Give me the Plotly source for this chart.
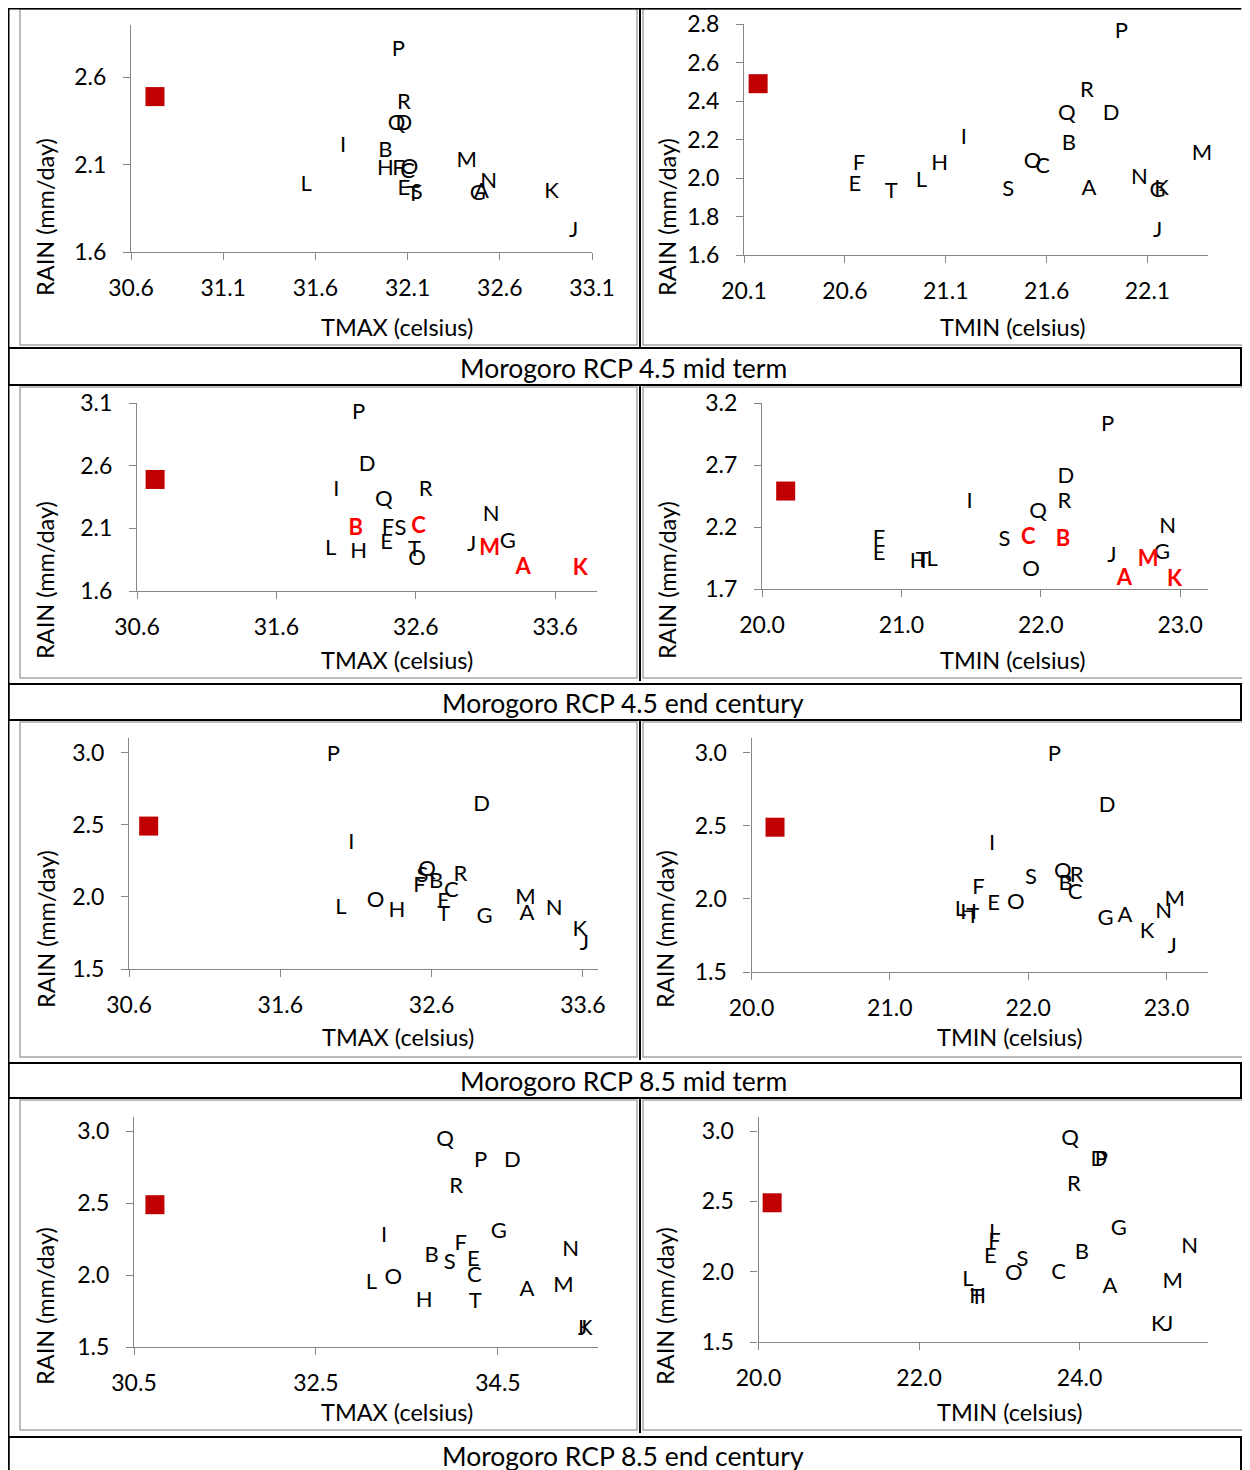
import plotly.graph_objects as go

# ---------------- data ----------------
letters = ["A", "B", "C", "D", "E", "F", "G", "H", "I", "J",
           "K", "L", "M", "N", "O", "P", "Q", "R", "S", "T"]

base_tmax = 30.73
base_tmin = 20.17
base_rain = 2.49

# RCP 4.5 mid term
rain_45mid = [1.94, 2.175, 2.055, 2.33, 1.96, 2.07, 1.93, 2.07, 2.205, 1.72,
              1.94, 1.98, 2.12, 2.00, 2.08, 2.755, 2.33, 2.45, 1.935, 1.925]
tmax_45mid = [32.50, 31.98, 32.10, 32.08, 32.08, 32.05, 32.48, 31.98, 31.75, 33.00,
              32.88, 31.55, 32.42, 32.54, 32.11, 32.05, 32.04, 32.08, 32.15, 32.13]
tmin_45mid = [21.81, 21.71, 21.58, 21.92, 20.65, 20.67, 22.15, 21.07, 21.19, 22.15,
              22.17, 20.98, 22.37, 22.06, 21.53, 21.97, 21.70, 21.80, 21.41, 20.83]

# RCP 4.5 end century
rain_45end = [1.78, 2.09, 2.11, 2.60, 1.98, 2.10, 1.99, 1.91, 2.40, 1.96,
              1.77, 1.93, 1.93, 2.20, 1.85, 3.02, 2.32, 2.40, 2.09, 1.92]
tmax_45end = [33.37, 32.17, 32.62, 32.25, 32.39, 32.40, 33.26, 32.19, 32.03, 33.00,
              33.78, 31.99, 33.13, 33.14, 32.61, 32.19, 32.37, 32.67, 32.49, 32.59]
tmin_45end = [22.60, 22.16, 21.91, 22.18, 20.84, 20.84, 22.87, 21.12, 21.49, 22.51,
              22.96, 21.22, 22.77, 22.91, 21.93, 22.48, 21.98, 22.17, 21.74, 21.15]
highlight_45end = ["A", "B", "C", "K", "M"]

# RCP 8.5 mid term
rain_85mid = [1.88, 2.10, 2.04, 2.63, 1.96, 2.07, 1.86, 1.90, 2.37, 1.67,
              1.77, 1.92, 1.99, 1.91, 1.97, 2.98, 2.18, 2.15, 2.14, 1.87]
tmax_85mid = [33.23, 32.63, 32.73, 32.93, 32.68, 32.52, 32.95, 32.37, 32.07, 33.61,
              33.58, 32.00, 33.22, 33.41, 32.23, 31.95, 32.57, 32.79, 32.54, 32.68]
tmin_85mid = [22.70, 22.27, 22.34, 22.57, 21.75, 21.64, 22.56, 21.57, 21.74, 23.04,
              22.86, 21.51, 23.06, 22.98, 21.91, 22.19, 22.25, 22.35, 22.02, 21.60]

# RCP 8.5 end century
rain_85end = [1.89, 2.13, 1.99, 2.79, 2.10, 2.21, 2.30, 1.82, 2.27, 1.62,
              1.62, 1.94, 1.92, 2.17, 1.98, 2.79, 2.94, 2.61, 2.08, 1.81]
tmax_85end = [34.82, 33.77, 34.24, 34.66, 34.23, 34.09, 34.51, 33.69, 33.25, 35.43,
              35.46, 33.11, 35.22, 35.30, 33.35, 34.31, 33.92, 34.04, 33.97, 34.25]
tmin_85end = [24.38, 24.03, 23.74, 24.24, 22.89, 22.94, 24.49, 22.73, 22.91, 25.11,
              24.98, 22.61, 25.16, 25.37, 23.18, 24.27, 23.88, 23.93, 23.29, 22.72]

captions = ["Morogoro RCP 4.5 mid term", "Morogoro RCP 4.5 end century",
            "Morogoro RCP 8.5 mid term", "Morogoro RCP 8.5 end century"]

# axis ranges and tick values per panel
xranges = [[30.6, 33.1], [20.1, 22.4], [30.6, 33.9], [20.0, 23.2],
           [30.6, 33.7], [20.0, 23.3], [30.5, 35.6], [20.0, 25.6]]
yranges = [[1.6, 2.9], [1.6, 2.8], [1.6, 3.1], [1.7, 3.2],
           [1.5, 3.1], [1.5, 3.1], [1.5, 3.1], [1.5, 3.1]]
xticks = [[30.6, 31.1, 31.6, 32.1, 32.6, 33.1], [20.1, 20.6, 21.1, 21.6, 22.1],
          [30.6, 31.6, 32.6, 33.6], [20.0, 21.0, 22.0, 23.0],
          [30.6, 31.6, 32.6, 33.6], [20.0, 21.0, 22.0, 23.0],
          [30.5, 32.5, 34.5], [20.0, 22.0, 24.0]]
yticks = [[1.6, 2.1, 2.6], [1.6, 1.8, 2.0, 2.2, 2.4, 2.6, 2.8],
          [1.6, 2.1, 2.6, 3.1], [1.7, 2.2, 2.7, 3.2],
          [1.5, 2.0, 2.5, 3.0], [1.5, 2.0, 2.5, 3.0],
          [1.5, 2.0, 2.5, 3.0], [1.5, 2.0, 2.5, 3.0]]
xtitles = ["TMAX (celsius)", "TMIN (celsius)"] * 4
ytitle = "RAIN (mm/day)"

panels_x = [tmax_45mid, tmin_45mid, tmax_45end, tmin_45end,
            tmax_85mid, tmin_85mid, tmax_85end, tmin_85end]
panels_y = [rain_45mid, rain_45mid, rain_45end, rain_45end,
            rain_85mid, rain_85mid, rain_85end, rain_85end]
panels_base_x = [base_tmax, base_tmin] * 4

# ---------------- layout geometry (pixels of the target picture) ----------------
W, H = 1250, 1470
OFF = 8  # page body margin offset
def fx(p): return (p - OFF) / W
def fy(p): return 1 - (p - OFF) / H

# plot-area boxes: (left, right, top, bottom) in pixels
plot_boxes = [(131, 592, 25, 252), (744, 1208, 24, 255),
              (137, 597, 403, 591), (762, 1208, 403, 589),
              (129, 598, 738, 969), (751.5, 1208, 738, 972),
              (134, 598, 1117, 1347), (758.5, 1208, 1117, 1342)]
xtitle_pos = [(397, 327), (1013, 327), (397, 660), (1013, 660),
              (398, 1037), (1010, 1037), (397, 1412), (1010, 1412)]
ytitle_pos = [(45, 217), (667, 217), (45, 580), (667, 580),
              (46, 929), (665, 929), (45, 1306), (665, 1306)]
frame_rows = [(9, 345), (387, 678), (722, 1057), (1100, 1430)]
caption_rows = [(348, 385), (684, 720), (1063, 1098), (1437, 1490)]
caption_text_y = [368, 703, 1081, 1456]

FONT = "Lato"
AXIS_COLOR = "#868686"
TICK_SIZE = 23
TITLE_SIZE = 23.5
LABEL_SIZE = 22
CAPTION_SIZE = 26.5

fig = go.Figure()
layout = dict(width=W, height=H,
              margin=dict(l=0, r=0, t=0, b=0, pad=0, autoexpand=False),
              paper_bgcolor="white", plot_bgcolor="rgba(0,0,0,0)",
              showlegend=False, font=dict(family=FONT, size=TICK_SIZE, color="black"))

shapes = []
annotations = []

# table structure (black lines) and caption boxes
shapes.append(dict(type="line", xref="paper", yref="paper", x0=fx(8.5), x1=fx(8.5),
                   y0=fy(8), y1=fy(1490), line=dict(color="black", width=2)))
shapes.append(dict(type="line", xref="paper", yref="paper", x0=fx(7), x1=fx(1241),
                   y0=fy(8.5), y1=fy(8.5), line=dict(color="black", width=2)))
for (t, b) in frame_rows:
    shapes.append(dict(type="line", xref="paper", yref="paper", x0=fx(640), x1=fx(640),
                       y0=fy(t - 2), y1=fy(b + 3), line=dict(color="black", width=2)))
for k, (t, b) in enumerate(caption_rows):
    shapes.append(dict(type="rect", xref="paper", yref="paper", x0=fx(8.5), x1=fx(1241),
                       y0=fy(b), y1=fy(t), line=dict(color="black", width=2),
                       fillcolor="white", layer="below"))
    annotations.append(dict(xref="paper", yref="paper", x=fx(623), y=fy(caption_text_y[k]),
                            text=captions[k], showarrow=False,
                            font=dict(family=FONT, size=CAPTION_SIZE, color="black"),
                            xanchor="center", yanchor="middle"))
# chart frames (gray)
for (t, b) in frame_rows:
    for (l, r) in [(20, 637), (643, 1248)]:
        shapes.append(dict(type="rect", xref="paper", yref="paper", x0=fx(l), x1=fx(r),
                           y0=fy(b), y1=fy(t), line=dict(color="#A6A6A6", width=1.5),
                           fillcolor="white", layer="below"))

for i in range(8):
    n = i + 1
    xa = "x" if n == 1 else f"x{n}"
    ya = "y" if n == 1 else f"y{n}"
    l, r, t, b = plot_boxes[i]
    axis_common = dict(showline=True, linecolor=AXIS_COLOR, linewidth=1.3,
                       ticks="outside", ticklen=7, tickcolor=AXIS_COLOR, tickwidth=1.3,
                       showgrid=False, zeroline=False, automargin=False,
                       tickfont=dict(family=FONT, size=TICK_SIZE, color="black"))
    layout["xaxis" if n == 1 else f"xaxis{n}"] = dict(
        axis_common, domain=[fx(l), fx(r)], range=xranges[i], tickvals=xticks[i],
        tickformat=".1f", anchor=ya, ticklabelstandoff=8)
    layout["yaxis" if n == 1 else f"yaxis{n}"] = dict(
        axis_common, domain=[fy(b), fy(t)], range=yranges[i], tickvals=yticks[i],
        tickformat=".1f", anchor=xa, ticklabelstandoff=12)

    xs, ys = panels_x[i], panels_y[i]
    if i in (2, 3):
        norm = [k for k, c in enumerate(letters) if c not in highlight_45end]
        hi = [k for k, c in enumerate(letters) if c in highlight_45end]
    else:
        norm = list(range(len(letters)))
        hi = []
    fig.add_trace(go.Scatter(x=[xs[k] for k in norm], y=[ys[k] for k in norm],
                             text=[letters[k] for k in norm], mode="text",
                             textposition="middle center",
                             textfont=dict(family=FONT, size=LABEL_SIZE, color="black"),
                             xaxis=xa, yaxis=ya, cliponaxis=False, hoverinfo="text"))
    if hi:
        fig.add_trace(go.Scatter(x=[xs[k] for k in hi], y=[ys[k] for k in hi],
                                 text=[letters[k] for k in hi], mode="text",
                                 textposition="middle center",
                                 textfont=dict(family=FONT, size=LABEL_SIZE, color="#FF0000",
                                               weight="bold"),
                                 xaxis=xa, yaxis=ya, cliponaxis=False, hoverinfo="text"))
    fig.add_trace(go.Scatter(x=[panels_base_x[i]], y=[base_rain], mode="markers",
                             marker=dict(symbol="square", size=19, color="#C00000"),
                             xaxis=xa, yaxis=ya, cliponaxis=False, hoverinfo="skip"))

    # axis titles
    xt, yt = xtitle_pos[i]
    annotations.append(dict(xref="paper", yref="paper", x=fx(xt), y=fy(yt),
                            text=xtitles[i], showarrow=False,
                            font=dict(family=FONT, size=TITLE_SIZE, color="black"),
                            xanchor="center", yanchor="middle"))
    xt, yt = ytitle_pos[i]
    annotations.append(dict(xref="paper", yref="paper", x=fx(xt), y=fy(yt),
                            text=ytitle, showarrow=False, textangle=-90,
                            font=dict(family=FONT, size=TITLE_SIZE, color="black"),
                            xanchor="center", yanchor="middle"))

layout["shapes"] = shapes
layout["annotations"] = annotations
fig.update_layout(**layout)
fig.write_html("out.html")
